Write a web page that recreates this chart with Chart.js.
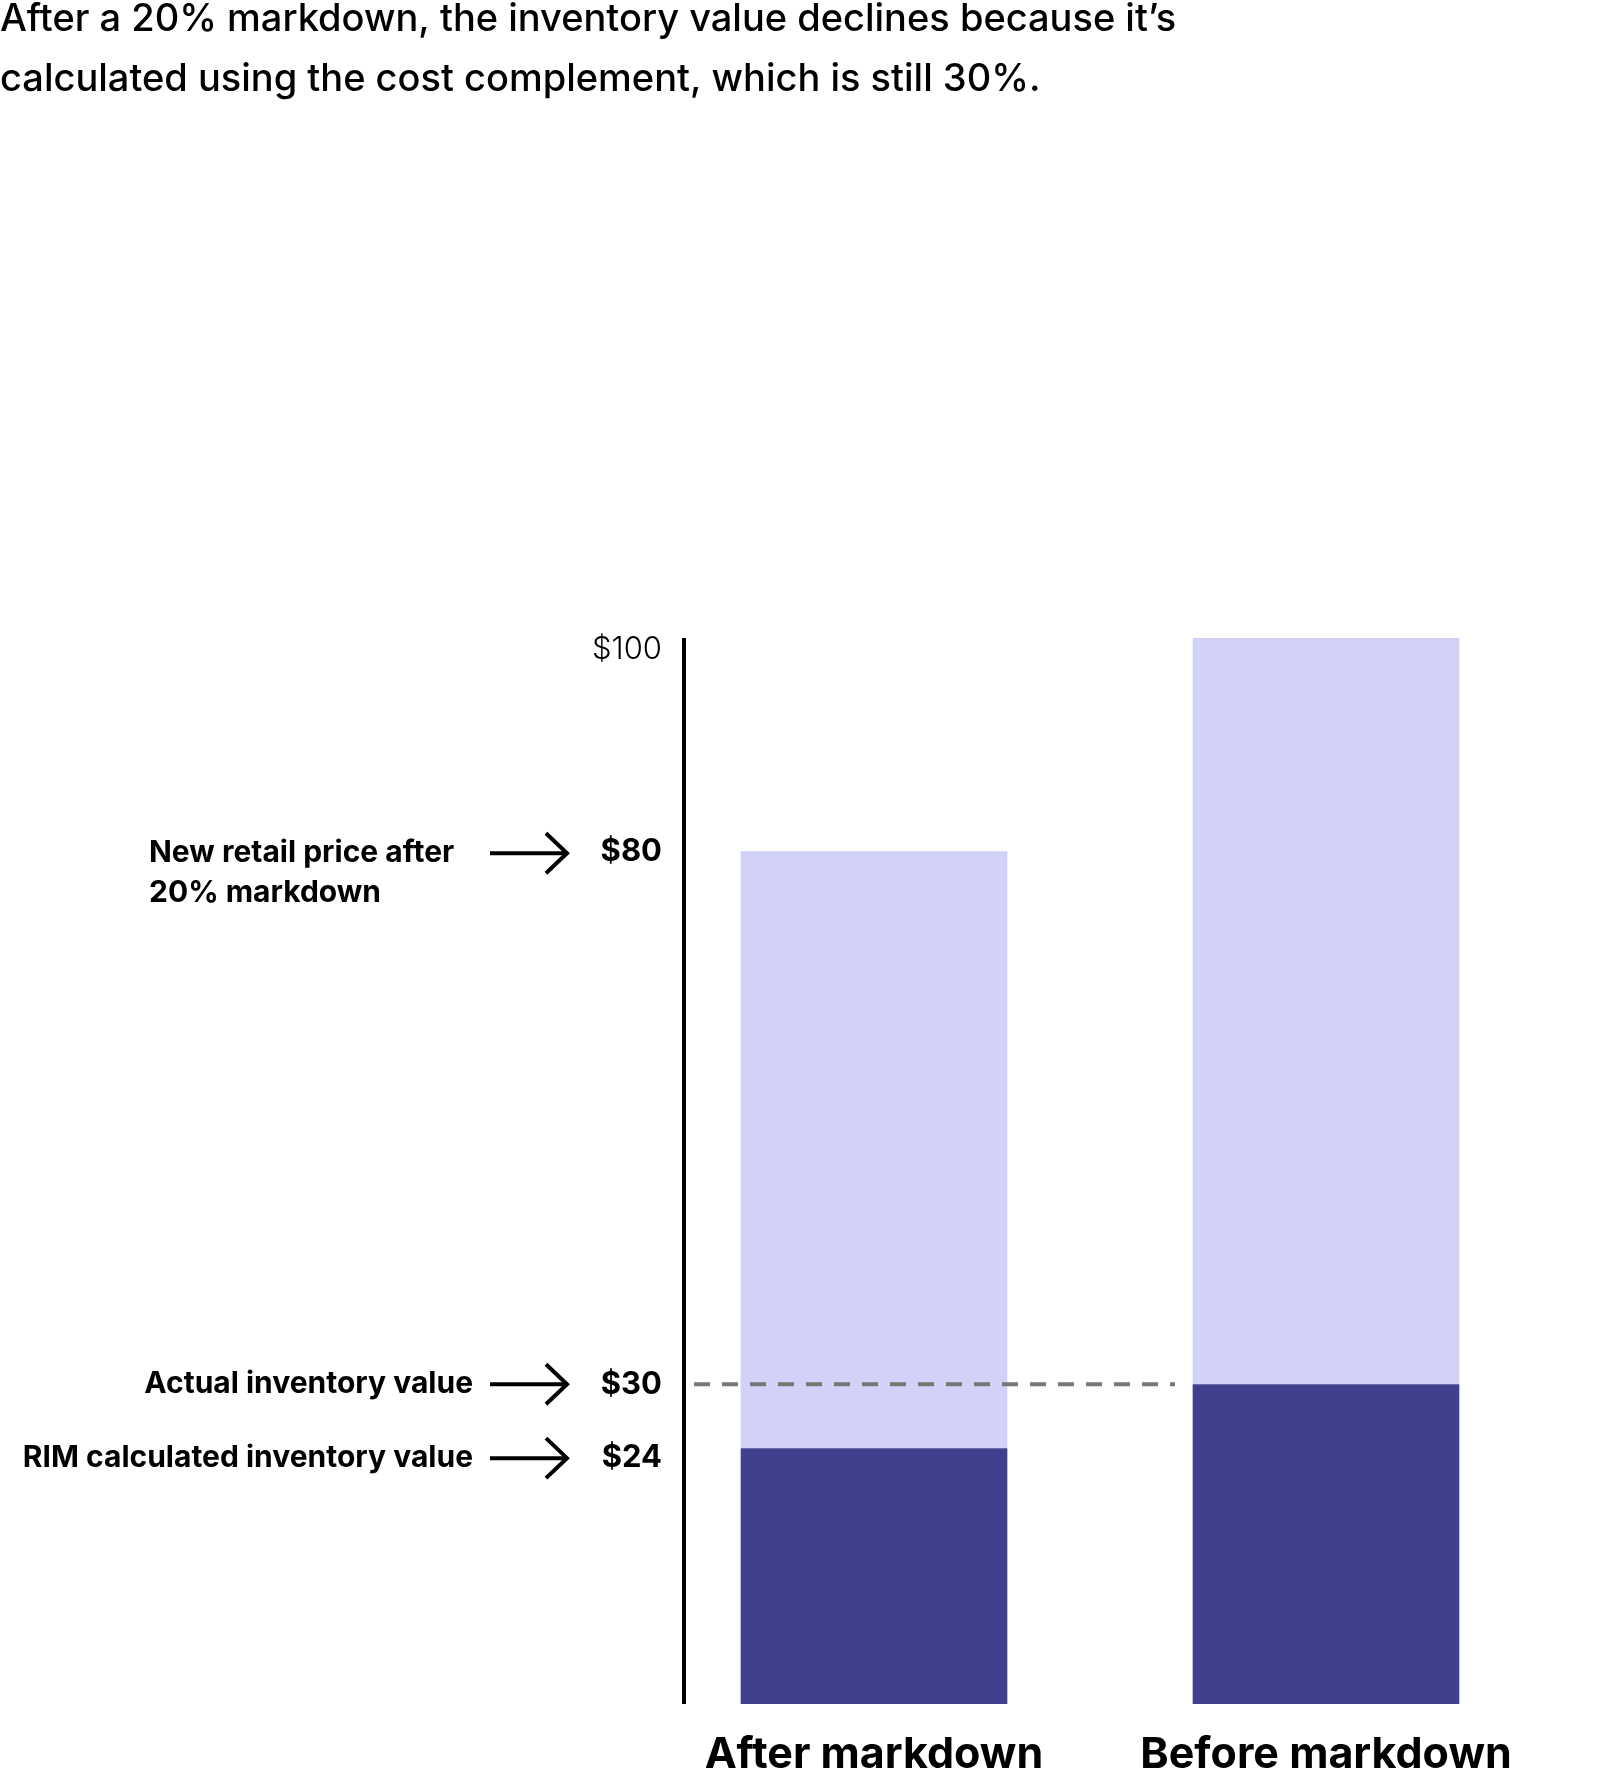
<!DOCTYPE html>
<html><head><meta charset="utf-8">
<script src="https://cdn.jsdelivr.net/npm/chart.js@4"></script>
<style>html,body{margin:0;padding:0;background:#fff}#w{width:1600px;height:1778px}</style>
</head><body><div id="w"><canvas id="c"></canvas></div>
<script>
const categories = ["After markdown", "Before markdown"];
const inventoryValues = [24, 30];
const remainderValues = [56, 70];
const tickLabels = [{v:100,t:"$100",bold:false},{v:80,t:"$80",bold:true},{v:30,t:"$30",bold:true},{v:24,t:"$24",bold:true}];
const annotations = [{v:80,lines:["New retail price after","20% markdown"],align:"left"},{v:30,lines:["Actual inventory value"],align:"right"},{v:24,lines:["RIM calculated inventory value"],align:"right"}];
const titleLines = ["After a 20% markdown, the inventory value declines because it\u2019s","calculated using the cost complement, which is still 30%."];
const F = "Inter, 'Open Sans', sans-serif";
const deco = {
  id:'deco',
  afterDatasetsDraw(ch){
    const c=ch.ctx, y=ch.scales.y, x=ch.scales.x;
    c.save();
    c.fillStyle='#000'; c.textBaseline='middle';
    c.font='500 38px '+F; c.textAlign='left';
    titleLines.forEach((t,i)=>c.fillText(t,0,20+i*60));
    // axis
    c.strokeStyle='#000'; c.lineWidth=4;
    c.beginPath(); c.moveTo(684,y.getPixelForValue(100)); c.lineTo(684,y.getPixelForValue(0)); c.stroke();
    // dashed
    c.strokeStyle='#777'; c.lineWidth=4; c.setLineDash([16,12]);
    const yd=y.getPixelForValue(30);
    c.beginPath(); c.moveTo(694,yd); c.lineTo(1175,yd); c.stroke(); c.setLineDash([]);
    // ticks
    c.textAlign='right';
    tickLabels.forEach(t=>{c.font=(t.bold?'700 ':'300 ')+'31px '+F; c.fillText(t.t,662,y.getPixelForValue(t.v)+(t.v===100?12:0)+(t.v===24?10:0));});
    // annotations + arrows
    annotations.forEach(a=>{
      const py=y.getPixelForValue(a.v)+(a.v===24?10:0)+(a.v===80?2:0);
      c.font='700 30px '+F;
      a.lines.forEach((l,i)=>{ if(a.align==='left'){c.textAlign='left';c.fillText(l,149,py+i*40);} else {c.textAlign='right';c.fillText(l,473,py+i*40);} });
      c.strokeStyle='#000'; c.lineWidth=4;
      c.beginPath(); c.moveTo(490,py); c.lineTo(566,py); c.stroke();
      c.beginPath(); c.moveTo(546,py-20); c.lineTo(567,py); c.lineTo(546,py+20); c.stroke();
    });
    // category labels
    c.font='700 43px '+F; c.textAlign='center'; c.fillStyle='#000';
    categories.forEach((t,i)=>c.fillText(t,x.getPixelForValue(i),1755));
    c.restore();
  }
};
new Chart(document.getElementById('c'),{
  type:'bar',
  data:{labels:categories,datasets:[
    {data:inventoryValues,backgroundColor:'#41408f'},
    {data:remainderValues,backgroundColor:'#d2d1f7'}]},
  options:{responsive:true,maintainAspectRatio:false,animation:false,
    layout:{padding:{left:648,right:48,top:638,bottom:74}},
    datasets:{bar:{barPercentage:1,categoryPercentage:0.59}},
    plugins:{legend:{display:false},tooltip:{enabled:false}},
    scales:{x:{stacked:true,display:false},y:{stacked:true,display:false,min:0,max:100}}},
  plugins:[deco]
});
</script></body></html>
